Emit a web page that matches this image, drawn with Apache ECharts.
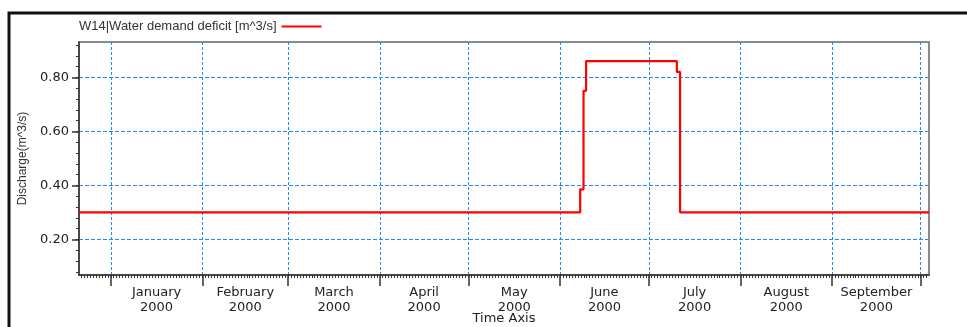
<!DOCTYPE html>
<html>
<head>
<meta charset="utf-8">
<script src="https://cdn.jsdelivr.net/npm/echarts@6/dist/echarts.min.js"></script>
<style>
  html, body { margin: 0; padding: 0; background: #fff; }
  #chart { width: 967px; height: 327px; }
</style>
</head>
<body>
<div id="chart"></div>
<script>
// data
var seriesName = 'W14|Water demand deficit [m^3/s]';
var stepTimes = ['1999-12-21 06:00', '2000-06-07 19:00', '2000-06-08 22:00', '2000-06-09 19:00',
                 '2000-07-10 12:00', '2000-07-11 14:00', '2000-10-03 19:00'];
var stepValues = [0.30, 0.385, 0.75, 0.86, 0.82, 0.30, 0.30];

var monthStarts = ['2000-01-01', '2000-02-01', '2000-03-01', '2000-04-01', '2000-05-01',
                   '2000-06-01', '2000-07-01', '2000-08-01', '2000-09-01', '2000-10-01'];
var monthNames = ['January', 'February', 'March', 'April', 'May', 'June', 'July', 'August', 'September'];
var yearLabel = '2000';
var yLabels = [0.2, 0.4, 0.6, 0.8];
var yMinorTicks = [0.08, 0.12, 0.16, 0.20, 0.24, 0.28, 0.32, 0.36, 0.40, 0.44, 0.48, 0.52, 0.56,
                   0.60, 0.64, 0.68, 0.72, 0.76, 0.80, 0.84, 0.88, 0.92];
var xMin = '1999-12-21 06:00', xMax = '2000-10-03 19:00';
var yMin = 0.068, yMax = 0.931;

var parse = function (s) { return +echarts.time.parse(s); };
var tMin = parse(xMin), tMax = parse(xMax);
var majorTicks = monthStarts.map(parse);
// labels sit in the middle of each month
var labelPos = [];
for (var i = 0; i < monthNames.length; i++) {
    labelPos.push((majorTicks[i] + majorTicks[i + 1]) / 2);
}
// one small tick per day
var dayTicks = [];
var d = new Date(tMin);
d.setHours(0, 0, 0, 0);
d.setDate(d.getDate() + 1);
while (+d <= tMax) {
    dayTicks.push(+d);
    d.setDate(d.getDate() + 1);
}

var lineData = stepTimes.map(function (t, k) { return [parse(t), stepValues[k]]; });

var labelFont = 'DejaVu Sans';
var gridBlue = '#1e88ff';
var chart = echarts.init(document.getElementById('chart'));
var option = {
    animation: false,
    backgroundColor: '#fff',
    graphic: [{
        type: 'rect',
        shape: { x: 9, y: 13, width: 1200, height: 600 },
        style: { fill: 'none', stroke: '#111', lineWidth: 3 },
        silent: true
    }],
    legend: {
        left: 74, top: 15,
        align: 'right',
        icon: 'rect',
        itemWidth: 40, itemHeight: 2, itemGap: 10,
        textStyle: { fontFamily: 'Liberation Sans', fontSize: 13, color: '#333' },
        data: [seriesName]
    },
    grid: {
        left: 79, top: 42, right: 38, bottom: 52,
        outerBoundsMode: 'none',
        containLabel: false,
        show: true, borderColor: '#666', borderWidth: 1.5
    },
    // time is kept as plain millisecond numbers so custom ticks can be used
    xAxis: [{
        type: 'value',
        min: tMin, max: tMax,
        name: 'Time Axis',
        nameLocation: 'middle',
        nameGap: 37,
        nameMoveOverlap: false,
        nameTextStyle: { fontFamily: labelFont, fontSize: 13, color: '#222' },
        axisLine: { show: true, lineStyle: { color: '#333', width: 1.5 } },
        axisTick: { show: true, customValues: majorTicks, length: 11, lineStyle: { color: '#333', width: 1.5 } },
        axisLabel: {
            customValues: labelPos,
            margin: 10,
            fontFamily: labelFont, fontSize: 13, color: '#222', lineHeight: 15,
            formatter: function (v) {
                return monthNames[new Date(v).getMonth()] + '\n' + yearLabel;
            }
        },
        splitLine: { show: true, lineStyle: { color: gridBlue, width: 1, type: [3, 2] } }
    }, {
        type: 'value',
        min: tMin, max: tMax,
        position: 'bottom',
        axisLine: { show: false },
        axisTick: { show: true, customValues: dayTicks, length: 3, lineStyle: { color: '#333', width: 1 } },
        axisLabel: { show: false },
        splitLine: { show: false }
    }],
    yAxis: [{
        type: 'value',
        min: yMin, max: yMax,
        name: 'Discharge(m^3/s)',
        nameLocation: 'middle',
        nameGap: 46,
        nameRotate: 90,
        nameTextStyle: { fontFamily: 'Liberation Sans', fontSize: 12, color: '#333' },
        axisLine: { show: true, lineStyle: { color: '#333', width: 1.5 } },
        axisTick: { show: true, customValues: yLabels, length: 7, lineStyle: { color: '#333', width: 1.5 } },
        axisLabel: {
            customValues: yLabels,
            margin: 10,
            fontFamily: labelFont, fontSize: 13, color: '#222',
            formatter: function (v) { return v.toFixed(2); }
        },
        splitLine: { show: true, lineStyle: { color: gridBlue, width: 1, type: [4, 2] } }
    }, {
        type: 'value',
        min: yMin, max: yMax,
        position: 'left',
        offset: 0,
        axisLine: { show: false },
        axisTick: { show: true, customValues: yMinorTicks, length: 3, lineStyle: { color: '#333', width: 1 } },
        axisLabel: { show: false },
        splitLine: { show: false }
    }],
    series: [{
        name: seriesName,
        type: 'line',
        step: 'end',
        xAxisIndex: 0,
        yAxisIndex: 0,
        symbol: 'none',
        lineStyle: { color: '#ff0000', width: 2.2 },
        itemStyle: { color: '#ff0000' },
        data: lineData
    }]
};
chart.setOption(option);
</script>
</body>
</html>
